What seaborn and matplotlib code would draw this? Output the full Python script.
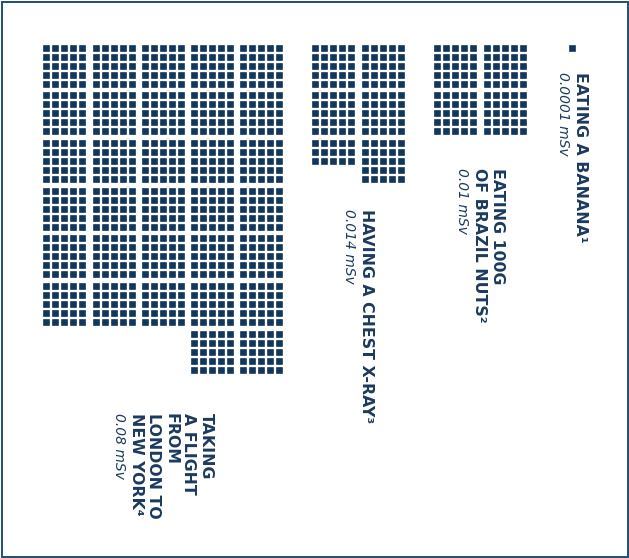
import numpy as np
import pandas as pd
import matplotlib
matplotlib.use('Agg')
import matplotlib.pyplot as plt
import seaborn as sns
from matplotlib.patches import Rectangle

# data: dose per activity, one square = one banana
activities = ['EATING A BANANA¹',
              'EATING 100G\nOF BRAZIL NUTS²',
              'HAVING A CHEST X-RAY³',
              'TAKING\nA FLIGHT\nFROM\nLONDON TO\nNEW YORK⁴']
doses = [0.0001, 0.01, 0.014, 0.08]
dose_labels = ['0.0001 mSv', '0.01 mSv', '0.014 mSv', '0.08 mSv']
unit_dose = 0.0001
block_cols = [1, 2, 2, 5]

# layout (units = one square pitch)
BLOCK = 5
HGAP = 0.48
VGAP = 0.3
SQ = 7 / 9
group_gaps = [3.2, 3.3, 4.7]          # flight->xray->nuts->banana
label_gaps = [2.3, 3.7, 3.0, 4.4]     # banana, nuts, xray, flight
navy = '#12375c'
text_col = '#1b3a5e'

#%% build square positions
frames = []
info = {}
cursor = 0.0
order = [3, 2, 1, 0]
for k, i in enumerate(order):
    n = int(round(doses[i] / unit_dose))
    nb = block_cols[i]
    xs, ys = [], []
    for j in range(n):
        b, w = divmod(j, BLOCK * BLOCK)
        brow, bpos = divmod(b, nb)
        bcol = nb - 1 - bpos
        r, c = divmod(w, BLOCK)
        xs.append(bcol * (BLOCK + HGAP) + c)
        ys.append(brow * (BLOCK + VGAP) + r)
    xs = np.array(xs, dtype=float)
    ys = np.array(ys, dtype=float)
    xs = xs - xs.min() + cursor
    frames.append(pd.DataFrame({'x': xs, 'y': ys, 'item': activities[i]}))
    info[i] = ((xs.min() + xs.max()) / 2, ys.max() + SQ / 2 + label_gaps[i])
    if k < len(group_gaps):
        cursor = xs.max() + SQ + group_gaps[k]

squares = pd.concat(frames, ignore_index=True)

#%% plot
sns.set_theme(style='white')
plt.rcParams['font.family'] = ['DejaVu Sans']

fig = plt.figure(figsize=(6.29, 5.58), dpi=100, facecolor='white')
ax = fig.add_axes([0, 0, 1, 1])

sns.scatterplot(data=squares, x='x', y='y', marker='s', s=23, snap=False,
                color=navy, linewidth=0, legend=False, ax=ax)

x0 = -46.2 / 9
y0 = -47.5 / 9
ax.set_xlim(x0, x0 + 629 / 9)
ax.set_ylim(y0 + 558 / 9, y0)
ax.set_axis_off()

# labels
anns = []
for i in range(len(activities)):
    cx, ytop = info[i]
    t = ax.annotate(activities[i], xy=(cx, ytop), xytext=(0, 0),
                    textcoords='offset pixels', rotation=270,
                    ha='center', va='top', multialignment='left',
                    fontsize=11.3, fontweight='bold',
                    color=text_col, linespacing=1.22)
    v = ax.annotate(dose_labels[i], xy=(cx, ytop), xytext=(0, 0),
                    textcoords='offset pixels', rotation=270,
                    ha='center', va='top', fontsize=10, fontstyle='italic',
                    color=text_col)
    anns.append((t, v))

fig.canvas.draw()
rend = fig.canvas.get_renderer()
for t, v in anns:
    wt = t.get_window_extent(rend).width
    wv = v.get_window_extent(rend).width
    W = wt + wv + 3
    t.set_ha('right')
    t.xyann = (W / 2, 0)
    v.set_ha('left')
    v.xyann = (-W / 2, 0)

# frame
fig.patches.append(Rectangle((1.5 / 629, 1.5 / 558), 1 - 3 / 629, 1 - 3 / 558,
                             transform=fig.transFigure, fill=False,
                             edgecolor='#244c74', linewidth=1.4))

plt.savefig('out.png', dpi=100, facecolor='white')
